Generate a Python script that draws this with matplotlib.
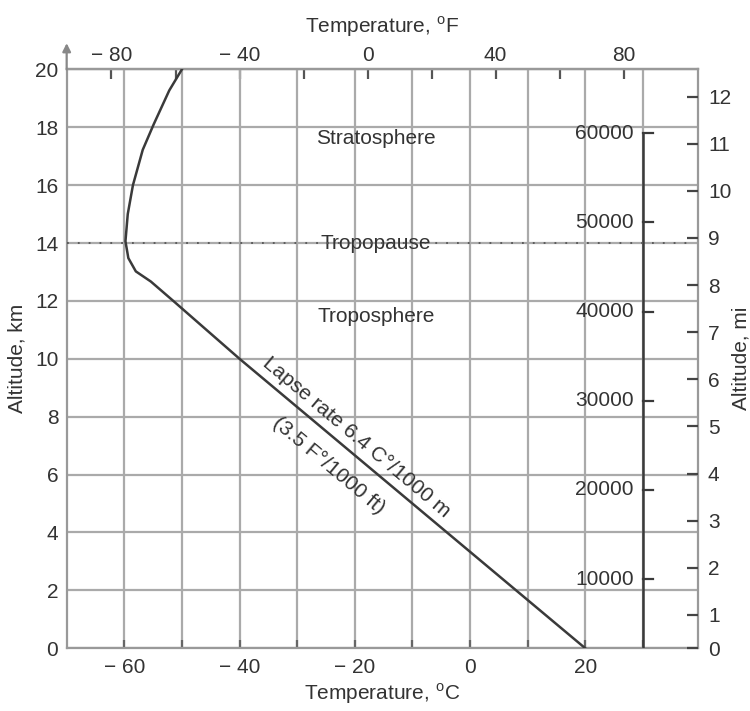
import numpy as np
import matplotlib
matplotlib.use("Agg")
import matplotlib.pyplot as plt
from matplotlib.ticker import FixedLocator, FuncFormatter

plt.rcParams["font.family"] = ["Liberation Sans", "DejaVu Sans"]
plt.rcParams["mathtext.fontset"] = "custom"
plt.rcParams["mathtext.rm"] = "Liberation Sans"

# temperature profile
alt_km = [0, 10, 12, 12.67, 13.02, 13.48, 14.06, 15, 16, 17.22, 18.1, 19.27, 20]
temp_c = [20, -40, -51.5, -55.4, -58.0, -59.3, -59.8, -59.4, -58.5, -56.8, -54.9, -52.2, -50]

# axis ticks
c_ticks = [-60, -50, -40, -30, -20, -10, 0, 10, 20, 30]
c_labels = [-60, -40, -20, 0, 20]
f_ticks = [-80, -60, -40, -20, 0, 20, 40, 60, 80]
f_labels = [-80, -40, 0, 40, 80]
km_ticks = [0, 2, 4, 6, 8, 10, 12, 14, 16, 18, 20]
mile_ticks = [1, 2, 3, 4, 5, 6, 7, 8, 9, 10, 11, 12]
mile_lim = (0.29, 12.58)  # miles scale as drawn in the source figure
ft_ticks = [10000, 20000, 30000, 40000, 50000, 60000]
ft_zero_km = -0.69  # where the feet scale starts in the source figure
km_per_ft = 3.08 / 10000
ft_scale_temp = 30

tropopause_km = 14
layers = ["Stratosphere", "Tropopause", "Troposphere"]
layer_alt = [17.6, 14.0, 11.45]

grid_c = "#aaaaaa"
spine_c = "#999999"
ink = "#333333"
fs = 15


def minus(v):
    return "\u2212 %d" % abs(v) if v < 0 else "%d" % v


fig = plt.figure(figsize=(7.5, 7.11), dpi=100)
ax = fig.add_axes([0.0889, 0.0882, 0.8421, 0.8143])
ax.set_xlim(-70, 39.6)
ax.set_ylim(0, 20)

# grid
for c in c_ticks:
    ax.axvline(c, color=grid_c, lw=1.6, zorder=1)
for k in km_ticks:
    ax.axhline(k, color=grid_c, lw=1.6, zorder=1)

for s in ax.spines.values():
    s.set_color(spine_c)
    s.set_linewidth(1.6)

# bottom (deg C)
ax.xaxis.set_major_locator(FixedLocator(c_ticks))
ax.xaxis.set_major_formatter(FuncFormatter(lambda v, p: minus(v) if int(round(v)) in c_labels else ""))
ax.tick_params(axis="x", direction="in", length=6, width=1.6, color="#666666",
               labelsize=fs, labelcolor=ink, pad=7)
ax.set_xlabel("Temperature, $^{\\mathrm{o}}$C", fontsize=fs, color=ink, labelpad=3)

# left (km)
ax.yaxis.set_major_locator(FixedLocator(km_ticks))
ax.tick_params(axis="y", length=0, labelsize=fs, labelcolor=ink, pad=6)
ax.set_ylabel("Altitude, km", fontsize=fs, color=ink, labelpad=6)

# arrow on the altitude axis
ax.annotate("", xy=(0, 1.05), xytext=(0, 0.995), xycoords="axes fraction",
            arrowprops=dict(arrowstyle="-|>", color="#888888", lw=1.6,
                            mutation_scale=12),
            annotation_clip=False)

# top (deg F)
top = ax.secondary_xaxis("top", functions=(lambda c: c * 9 / 5 + 32,
                                           lambda f: (f - 32) * 5 / 9))
top.xaxis.set_major_locator(FixedLocator(f_ticks))
top.xaxis.set_major_formatter(FuncFormatter(lambda v, p: minus(v) if int(round(v)) in f_labels else ""))
top.tick_params(direction="in", length=7, width=1.6, color="#555555",
                labelsize=fs, labelcolor=ink, pad=3)
top.spines["top"].set_color(spine_c)
top.spines["top"].set_linewidth(1.6)
top.set_xlabel("Temperature, $^{\\mathrm{o}}$F", fontsize=fs, color=ink, labelpad=10)

# right (miles)
rax = ax.twinx()
rax.set_ylim(*mile_lim)
rax.yaxis.set_major_locator(FixedLocator([mile_lim[0]] + mile_ticks))
rax.yaxis.set_major_formatter(FuncFormatter(lambda v, p: "0" if v < 0.5 else "%d" % round(v)))
rax.tick_params(axis="y", direction="in", length=8, width=1.6, color="#444444",
                labelsize=fs, labelcolor=ink, pad=7)
for s in rax.spines.values():
    s.set_visible(False)
rax.set_ylabel("Altitude, mi", fontsize=fs, color=ink, labelpad=0)

# temperature curve
ax.plot(temp_c, alt_km, color="#3a3a3a", lw=1.8, zorder=3)

# tropopause
ax.axhline(tropopause_km, xmax=0.99, color="#555555", lw=1.3, ls=(0, (1, 5)), zorder=5)

for name, y in zip(layers, layer_alt):
    ax.text(-16.3, y, name, ha="center", va="center", fontsize=fs, color=ink, zorder=4)

# lapse rate notes along the line
ax.text(-19.7, 7.3, "Lapse rate 6.4 C\u00b0/1000 m", rotation=-40, rotation_mode="anchor",
        ha="center", va="center", fontsize=fs, color=ink)
ax.text(-24.6, 6.3, "(3.5 F\u00b0/1000 ft)", rotation=-40, rotation_mode="anchor",
        ha="center", va="center", fontsize=fs, color=ink)

# feet scale
ft_km = [ft_zero_km + f * km_per_ft for f in ft_ticks]
ax.plot([ft_scale_temp, ft_scale_temp], [0, ft_km[-1]], color="#3a3a3a", lw=1.8, zorder=3)
for f, k in zip(ft_ticks, ft_km):
    ax.plot([ft_scale_temp, ft_scale_temp + 1.7], [k, k], color="#3a3a3a", lw=1.6, zorder=3)
    ax.text(ft_scale_temp - 1.6, k, "%d" % f, ha="right", va="center", fontsize=fs, color=ink)

fig.savefig("out.png", dpi=100)
